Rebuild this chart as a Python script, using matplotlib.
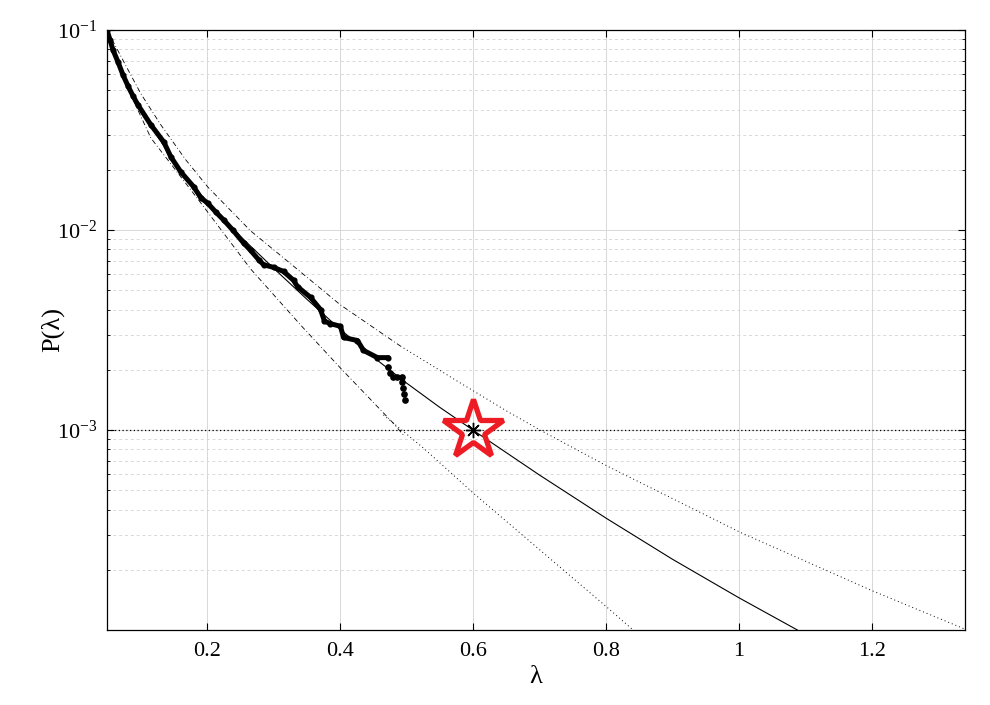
import matplotlib
matplotlib.use("Agg")
import matplotlib.pyplot as plt
from matplotlib.ticker import FixedLocator, LogLocator, NullFormatter

# font settings (Times-like)
plt.rcParams['font.family'] = ['Liberation Serif', 'DejaVu Serif']
plt.rcParams['mathtext.fontset'] = 'custom'
plt.rcParams['mathtext.rm'] = 'Liberation Serif'
plt.rcParams['mathtext.it'] = 'Liberation Serif:italic'

# empirical exceedance probability (thick dotted curve)
data_lam = [0.05, 0.0545, 0.059, 0.0665, 0.074, 0.0815, 0.089, 0.0965, 0.116,
            0.1355, 0.146, 0.161, 0.1805, 0.191, 0.2015, 0.2135, 0.2255, 0.239,
            0.2555, 0.266, 0.278, 0.2855, 0.3005, 0.3155, 0.3305, 0.3365, 0.356,
            0.371, 0.377, 0.386, 0.401, 0.4056, 0.4266, 0.4356, 0.4566, 0.4731]
data_p = [0.1, 0.0891, 0.0794, 0.0692, 0.0596, 0.0525, 0.0468, 0.0422, 0.0335,
          0.0275, 0.0232, 0.0195, 0.0164, 0.0145, 0.0136, 0.0123, 0.0112, 0.0100,
          0.0086, 0.0079, 0.0071, 0.0067, 0.0065, 0.0062, 0.0056, 0.0052, 0.0046,
          0.0040, 0.0035, 0.0034, 0.0033, 0.0029, 0.0028, 0.0025, 0.0023, 0.0023]

# last isolated points of the empirical curve
tail_lam = [0.4731, 0.476, 0.4806, 0.4866, 0.494, 0.494, 0.4956, 0.497, 0.4986]
tail_p = [0.00207, 0.00193, 0.00184, 0.00184, 0.00184, 0.00174, 0.00162, 0.00151, 0.00141]

# fitted model (solid line)
fit_lam = [0.05, 0.0665, 0.0815, 0.0965, 0.116, 0.1355, 0.161, 0.2015, 0.25,
           0.30, 0.35, 0.40, 0.45, 0.50, 0.55, 0.60, 0.70, 0.80, 0.90, 1.00, 1.088]
fit_p = [0.1, 0.0684, 0.0525, 0.0422, 0.0331, 0.0263, 0.01995, 0.01365, 0.00933,
         0.00646, 0.00452, 0.0032, 0.00232, 0.00172, 0.0013, 0.001, 0.000596,
         0.000363, 0.000226, 0.000145, 0.0001]

# upper confidence bound (dash-dot inside data range, dotted beyond)
up_lam = [0.05, 0.0785, 0.101, 0.131, 0.1685, 0.2015, 0.266, 0.3065, 0.401,
          0.491, 0.5736, 0.6516, 0.701, 0.8017, 1.001, 1.2008, 1.34]
up_p = [0.1, 0.0661, 0.0479, 0.0335, 0.0224, 0.0164, 0.00989, 0.00767, 0.00422,
        0.00263, 0.00178, 0.00124, 0.001, 0.000661, 0.000309, 0.000157, 0.000101]
up_split = 9

# lower confidence bound, dash-dot part
lo_lam = [0.05, 0.0665, 0.086, 0.116, 0.146, 0.191, 0.266, 0.341, 0.401,
          0.4806, 0.4956]
lo_p = [0.1, 0.0708, 0.0473, 0.0288, 0.0214, 0.01365, 0.00638, 0.00335,
        0.00204, 0.00108, 0.000944]

# lower confidence bound, dotted extrapolation
lo_ext_lam = [0.4656, 0.5256, 0.6006, 0.701, 0.8017, 0.841]
lo_ext_p = [0.00119, 0.000813, 0.000484, 0.000251, 0.00013, 0.0001]

# design point
target_lam = 0.6
target_p = 1e-3

xticks = [0.2, 0.4, 0.6, 0.8, 1, 1.2]
xtick_labels = ['0.2', '0.4', '0.6', '0.8', '1', '1.2']
yticks = [1e-3, 1e-2, 1e-1]
ytick_labels = ['$10^{-3}$', '$10^{-2}$', '$10^{-1}$']

fig = plt.figure(figsize=(9.9, 7.05), dpi=100)
ax = fig.add_axes([0.1081, 0.1064, 0.8666, 0.8511])

# grid lines
ax.grid(True, which='major', color='#d8d8d8', linewidth=0.7, linestyle='-')
ax.grid(True, which='minor', axis='y', color='#d8d8d8', linewidth=0.7, linestyle=(0, (3, 3)))
ax.set_axisbelow(True)

# horizontal reference level
ax.axhline(target_p, color='black', linewidth=0.9, linestyle=(0, (1, 2)), zorder=2)

# bounds
ax.plot(up_lam[:up_split + 1], up_p[:up_split + 1], color='black', linewidth=0.6,
        linestyle=(0, (6, 3, 1, 3)), zorder=3)
ax.plot(up_lam[up_split:], up_p[up_split:], color='black', linewidth=0.7,
        linestyle=(0, (1, 3)), zorder=3)
ax.plot(lo_lam, lo_p, color='black', linewidth=0.6, linestyle=(0, (6, 3, 1, 3)), zorder=3)
ax.plot(lo_ext_lam, lo_ext_p, color='black', linewidth=0.7, linestyle=(0, (1, 3)), zorder=3)

# fitted curve
ax.plot(fit_lam, fit_p, color='black', linewidth=0.8, zorder=3)

# empirical data
ax.plot(data_lam, data_p, color='black', linewidth=3.6, marker='o', markersize=3.4,
        solid_capstyle='round', solid_joinstyle='round', zorder=4)
ax.plot(tail_lam, tail_p, color='black', linestyle='none', marker='o', markersize=3.8, zorder=4)

# star marking the target point
ax.plot(target_lam, target_p, marker='*', markersize=45, markerfacecolor='none',
        markeredgecolor='#ED1C24', markeredgewidth=3.8, zorder=5)
ax.plot(target_lam, target_p, marker=(8, 2, 0), markersize=11, color='black',
        markeredgewidth=1.0, zorder=6)

# axes scale and limits
ax.set_yscale('log')
ax.set_xlim(0.05, 1.34)
ax.set_ylim(1e-4, 1e-1)

# ticks
ax.xaxis.set_major_locator(FixedLocator(xticks))
ax.set_xticklabels(xtick_labels)
ax.yaxis.set_major_locator(FixedLocator(yticks))
ax.set_yticklabels(ytick_labels)
ax.yaxis.set_minor_locator(LogLocator(base=10, subs=[2, 3, 4, 5, 6, 7, 8, 9]))
ax.yaxis.set_minor_formatter(NullFormatter())
ax.tick_params(which='both', direction='in', top=True, right=True, labelsize=16)
ax.tick_params(which='major', length=5, width=0.8)
ax.tick_params(which='minor', length=2.5, width=0.6)
ax.tick_params(axis='x', pad=9)
ax.tick_params(axis='y', pad=7)

for spine in ax.spines.values():
    spine.set_linewidth(0.9)

# labels
ax.set_xlabel('λ', fontsize=19, labelpad=3)
ax.set_ylabel('P(λ)', fontsize=19, labelpad=-5)

fig.savefig('out.png', dpi=100)
